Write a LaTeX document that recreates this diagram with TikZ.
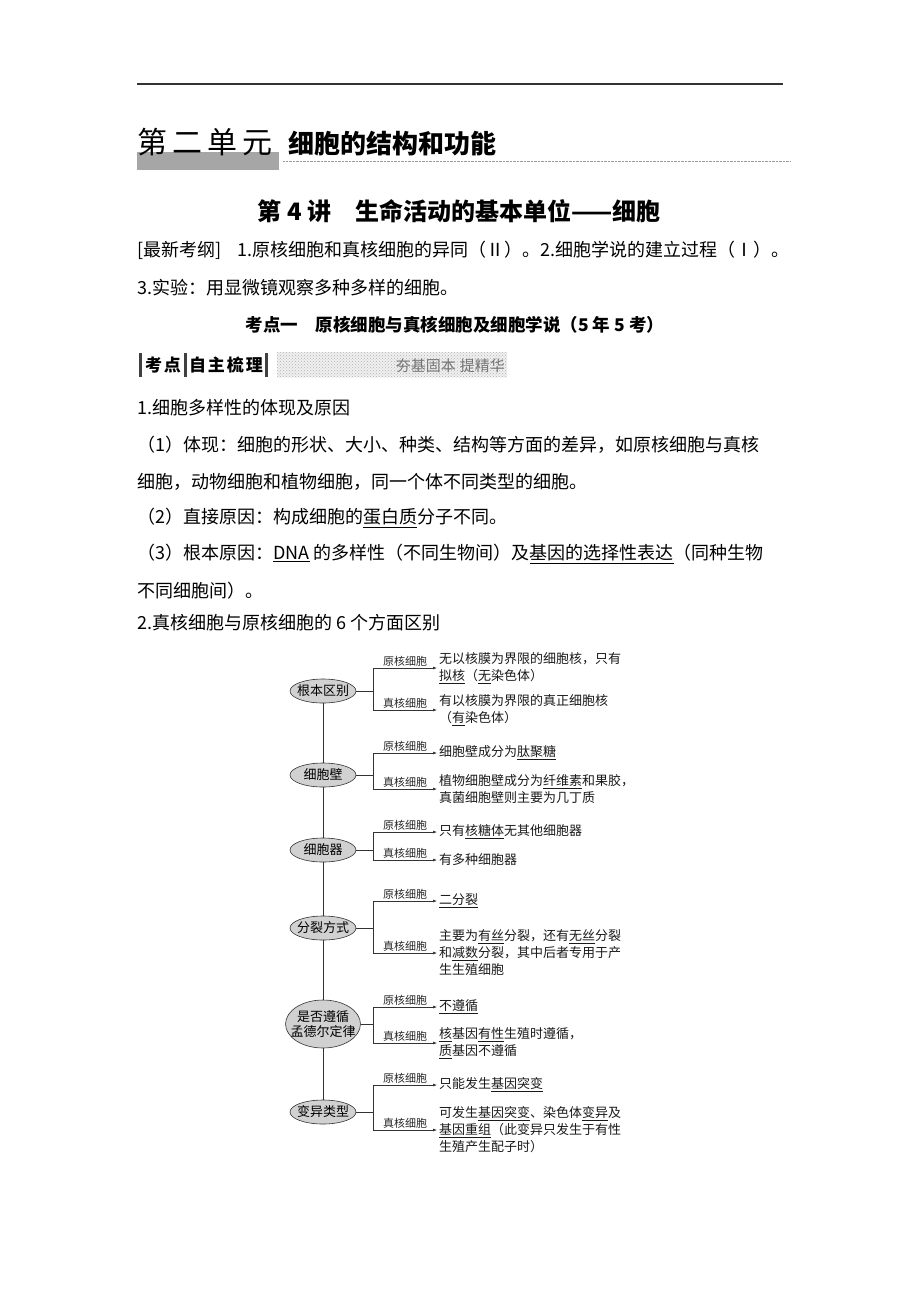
\documentclass[tikz,border=0pt]{standalone}
\usepackage{fontspec}
\setmainfont{Noto Sans CJK SC}
\usetikzlibrary{shapes.geometric,arrows.meta,patterns}

\tikzset{
  body/.style={anchor=west,inner sep=0pt,font=\fontsize{18}{18}\selectfont},
  ellip/.style={ellipse,draw=black!80,fill=black!18,line width=0.6pt,align=center,
    inner xsep=-3pt,inner ysep=0pt,minimum width=66pt,minimum height=24pt,
    font=\fontsize{13}{15}\selectfont},
  link/.style={draw=black!80,line width=0.6pt},
  arr/.style={link,-{Latex[length=4pt,width=3pt]}},
  lbl/.style={font=\fontsize{11}{11}\selectfont,above,inner sep=1.5pt,pos=0.75,text=black!85},
  info/.style={anchor=west,inner sep=2pt,align=left,font=\fontsize{13}{17}\selectfont,text=black!90},
}

\begin{document}
\begin{tikzpicture}[x=1pt,y=-1pt]
\useasboundingbox (0,0) rectangle (920,1302);

% page head
\draw[line width=1.2pt,black!80] (137,84) -- (783,84);
\fill[black!35] (137,152) rectangle (279,170);
\node[anchor=west,inner sep=0pt,font=\fontsize{30}{30}\selectfont] (unit) at (137,142) {第\hspace{5pt}二\hspace{5pt}单\hspace{5pt}元};
\node[anchor=west,inner sep=0pt,font=\bfseries\fontsize{26}{26}\selectfont] (unitname) at (288,144) {细胞的结构和功能};
\draw[densely dotted,black!40] (283,161) -- (790,161);

\node[inner sep=0pt,font=\bfseries\fontsize{24}{24}\selectfont] (lecture) at (459,211) {第 4 讲\quad 生命活动的基本单位——细胞};
\node[body] (syl1) at (137,250) {[最新考纲]\hspace{16pt}1.原核细胞和真核细胞的异同（Ⅱ）。2.细胞学说的建立过程（Ⅰ）。};
\node[body] (syl2) at (137,288) {3.实验：用显微镜观察多种多样的细胞。};
\node[inner sep=0pt,font=\bfseries\fontsize{17.5}{17.5}\selectfont] (topic) at (455,325) {考点一\quad 原核细胞与真核细胞及细胞学说（5 年 5 考）};

% bar
\foreach \x in {139,184,265}
  \fill[black!75] (\x,353) rectangle (\x+3,377);
\node[inner sep=0pt,font=\bfseries\fontsize{17}{17}\selectfont] (kd) at (163,365) {考\hspace{2pt}点};
\node[inner sep=0pt,font=\bfseries\fontsize{17}{17}\selectfont] (zz) at (226,365) {自\hspace{2pt}主\hspace{2pt}梳\hspace{2pt}理};
\fill[black!6] (277,352) rectangle (507,377);
\fill[pattern=crosshatch dots,pattern color=black!30] (277,352) rectangle (507,377);
\node[anchor=east,inner sep=0pt,text=black!55,font=\fontsize{15}{15}\selectfont] (motto) at (505,366) {夯基固本\hspace{4pt}提精华};

\node[body] (sec1) at (137,408) {1.细胞多样性的体现及原因};
\node[body] (p1) at (137,445) {（1）体现：细胞的形状、大小、种类、结构等方面的差异，如原核细胞与真核};
\node[body] (p1b) at (137,482) {细胞，动物细胞和植物细胞，同一个体不同类型的细胞。};
\node[body] (p2) at (137,518) {（2）直接原因：构成细胞的\underline{蛋白质}分子不同。};
\node[body] (p3) at (137,554) {（3）根本原因：\underline{DNA} 的多样性（不同生物间）及\underline{基因的选择性表达}（同种生物};
\node[body] (p3b) at (137,591) {不同细胞间）。};
\node[body] (sec2) at (137,623) {2.真核细胞与原核细胞的 6 个方面区别};

% diagram
\node[ellip] (diff) at (323,691) {根本区别};
\node[ellip] (wall) at (323,775) {细胞壁};
\node[ellip] (organ) at (323,850) {细胞器};
\node[ellip] (divide) at (323,928) {分裂方式};
\node[ellip,inner xsep=-6pt,minimum height=48pt] (mendel) at (323,1024) {是否遵循\\孟德尔定律};
\node[ellip] (vary) at (323,1112) {变异类型};

\node[info] (diff-pro) at (437,668) {无以核膜为界限的细胞核，只有\\\underline{拟核}（\underline{无}染色体）};
\node[info] (diff-euk) at (437,710) {有以核膜为界限的真正细胞核\\（\underline{有}染色体）};
\node[info] (wall-pro) at (437,753) {细胞壁成分为\underline{肽聚糖}};
\node[info] (wall-euk) at (437,789) {植物细胞壁成分为\underline{纤维素}和果胶，\\真菌细胞壁则主要为几丁质};
\node[info] (organ-pro) at (437,832) {只有\underline{核糖体}无其他细胞器};
\node[info] (organ-euk) at (437,860) {有多种细胞器};
\node[info] (divide-pro) at (437,901) {\underline{二分裂}};
\node[info] (divide-euk) at (437,953) {主要为\underline{有丝}分裂，还有\underline{无丝}分裂\\和\underline{减数}分裂，其中后者专用于产\\生生殖细胞};
\node[info] (mendel-pro) at (437,1007) {\underline{不遵循}};
\node[info] (mendel-euk) at (437,1043) {\underline{核}基因\underline{有性}生殖时遵循，\\\underline{质}基因不遵循};
\node[info] (vary-pro) at (437,1085) {只能发生\underline{基因突变}};
\node[info] (vary-euk) at (437,1130) {可发生\underline{基因突变}、染色体\underline{变异}及\\\underline{基因重组}（此变异只发生于有性\\生殖产生配子时）};

\coordinate (jx) at (373,0);
\foreach \a/\b in {diff/wall,wall/organ,organ/divide,divide/mendel,mendel/vary}
  \draw[link] (\a) -- (\b);
\foreach \g in {diff,wall,organ,divide,mendel,vary}{
  \coordinate (\g-j) at (\g -| jx);
  \draw[link] (\g) -- (\g-j);
  \draw[arr] (\g-j) |- node[lbl]{原核细胞} (\g-pro.west);
  \draw[arr] (\g-j) |- node[lbl]{真核细胞} (\g-euk.west);
}
\end{tikzpicture}
\end{document}
